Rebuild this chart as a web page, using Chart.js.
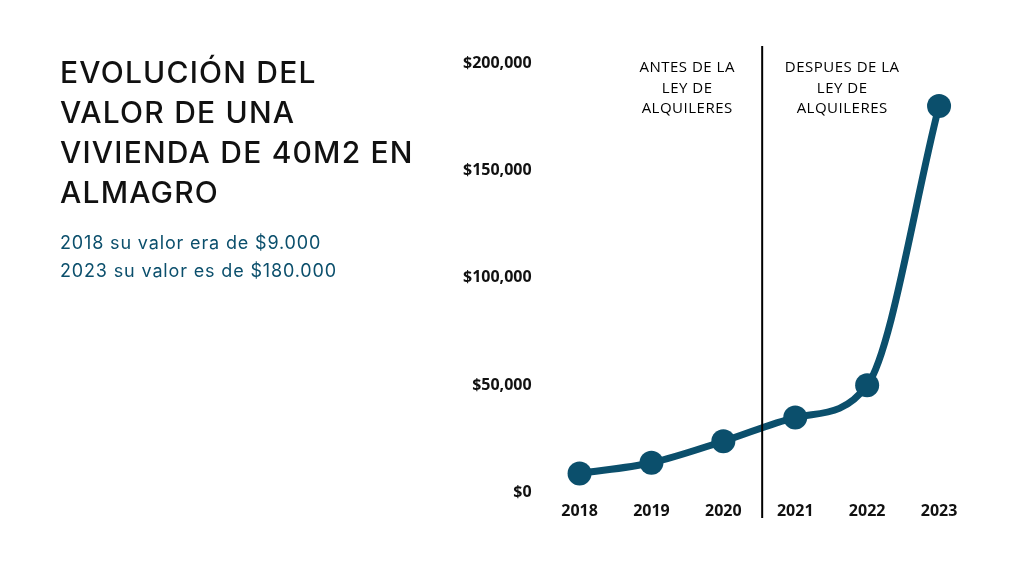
<!DOCTYPE html>
<html>
<head>
<meta charset="utf-8">
<script src="https://cdn.jsdelivr.net/npm/chart.js@4"></script>
<style>
  body { margin:0; background:#fff; width:1024px; height:576px; overflow:hidden; position:relative; }
  #wrap { position:absolute; left:0; top:0; width:1024px; height:576px; }
  .title { position:absolute; left:60px; top:52px; font-family:"Inter", sans-serif; font-size:30px; line-height:40px; color:#111; letter-spacing:1.2px; margin:0; font-weight:500; }
  .sub { position:absolute; left:60px; top:229px; font-family:"Inter", sans-serif; font-size:18px; line-height:28px; color:#0b4f6c; letter-spacing:0.85px; margin:0; }
</style>
</head>
<body>
<div id="wrap"><canvas id="chart" width="1024" height="576"></canvas></div>
<h1 class="title">EVOLUCIÓN DEL<br>VALOR DE UNA<br>VIVIENDA DE 40M2 EN<br>ALMAGRO</h1>
<p class="sub">2018 su valor era de $9.000<br>2023 su valor es de $180.000</p>
<script>
let years=['2018','2019','2020','2021','2022','2023'];
let valores=[9000,14000,24000,35000,50000,180000];
let antesTexto=['ANTES DE LA','LEY DE','ALQUILERES'];
let despuesTexto=['DESPUES DE LA','LEY DE','ALQUILERES'];

// line between 2020 and 2021 plus the two text blocks
const divider = {
    id:'divider',
    afterDatasetsDraw(chart){
        const c=chart.ctx, x=chart.scales.x;
        const px=x.getPixelForValue(2.54);
        c.save();
        c.strokeStyle='#000';
        c.lineWidth=2;
        c.beginPath();
        c.moveTo(px,46);
        c.lineTo(px,518);
        c.stroke();
        c.fillStyle='#000';
        c.font='500 15px "Open Sans"';
        c.letterSpacing='0.5px';
        c.textAlign='center';
        c.textBaseline='middle';
        antesTexto.forEach((t,i)=>c.fillText(t,px-75,68+i*20.5));
        despuesTexto.forEach((t,i)=>c.fillText(t,px+80,68+i*20.5));
        c.restore();
    }
};

var ctx=document.getElementById('chart').getContext('2d');
var myChart=new Chart(ctx,{
    type:'line',
    data:{
        labels:years,
        datasets:[{
            data:valores,
            borderColor:'#0b4f6c',
            backgroundColor:'#0b4f6c',
            borderWidth:7,
            pointRadius:12,
            pointHoverRadius:12,
            pointBorderWidth:0,
            cubicInterpolationMode:'monotone',
            fill:false
        }]
    },
    options:{
        responsive:false,
        animation:false,
        layout:{padding:{left:459,top:63,right:49,bottom:54}},
        plugins:{legend:{display:false},tooltip:{enabled:false}},
        scales:{
            y:{
                min:0,max:200000,
                border:{display:false},
                grid:{display:false},
                ticks:{
                    stepSize:50000,
                    padding:4,
                    color:'#111',
                    font:{family:'"Open Sans"',size:16,weight:'bold'},
                    callback:v=>'$'+v.toLocaleString('en-US')
                }
            },
            x:{
                offset:true,
                border:{display:false},
                grid:{display:false,offset:true},
                ticks:{
                    padding:1,
                    color:'#111',
                    font:{family:'"Open Sans"',size:16,weight:'bold'}
                }
            }
        }
    },
    plugins:[divider]
});
</script>
</body>
</html>
